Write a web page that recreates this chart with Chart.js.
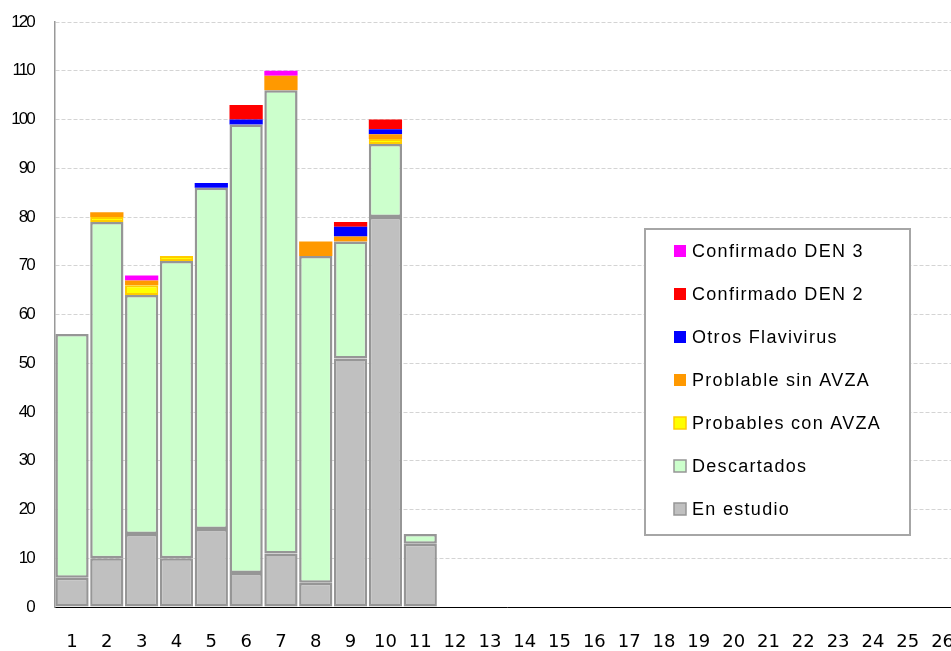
<!DOCTYPE html>
<html>
<head>
<meta charset="utf-8">
<script src="https://cdn.jsdelivr.net/npm/chart.js@4/dist/chart.umd.min.js"></script>
<style>
html,body{margin:0;padding:0;background:#fff;overflow:hidden;}
#wrap{width:960px;height:651px;}
</style>
</head>
<body>
<div id="wrap"><canvas id="c" width="960" height="651"></canvas></div>
<script>
const categories = ['1','2','3','4','5','6','7','8','9','10','11','12','13','14','15','16','17','18','19','20','21','22','23','24','25','26'];
const yTicks = [0,10,20,30,40,50,60,70,80,90,100,110,120];

const enEstudio   = [6,10,15,10,16,7,11,5,51,80,13];
const descartados = [50,69,49,61,70,92,95,67,24,15,2];
const conAVZA     = [0,1,2,1,0,0,0,0,0,1,0];
const sinAVZA     = [0,1,1,0,0,0,3,3,1,1,0];
const otrosFlavi  = [0,0,0,0,1,1,0,0,2,1,0];
const den2        = [0,0,0,0,0,3,0,0,1,2,0];
const den3        = [0,0,1,0,0,0,1,0,0,0,0];

const nz = a => a.map(v => v === 0 ? null : v);

const mk = (label, data, bg, border, bw) => ({
  label, data: nz(data), backgroundColor: bg, borderColor: border, borderWidth: bw,
  borderSkipped: false, categoryPercentage: 1, barPercentage: 0.955, stack: 's'
});

const datasets = [
  mk('En estudio', enEstudio, '#C0C0C0', '#969696', 2.5),
  mk('Descartados', descartados, '#CCFFCC', '#969696', 2.5),
  mk('Probables con AVZA', conAVZA, '#FFFF00', '#FFCC00', 2),
  mk('Problable sin AVZA', sinAVZA, '#FF9900', '#FF9900', 0),
  mk('Otros Flavivirus', otrosFlavi, '#0000FF', '#0000FF', 0),
  mk('Confirmado DEN 2', den2, '#FF0000', '#FF0000', 0),
  mk('Confirmado DEN 3', den3, '#FF00FF', '#FF00FF', 0)
];

const boxLegend = {
  id: 'boxLegend',
  beforeDraw(chart) {
    const ys = chart.scales.y;
    if (ys && !ys._lsWrapped) {
      const orig = ys.drawLabels.bind(ys);
      ys.drawLabels = function (area) {
        const ctx = chart.ctx;
        ctx.save();
        ctx.letterSpacing = '-2px';
        orig(area);
        ctx.restore();
      };
      ys._lsWrapped = true;
    }
  },
  afterDraw(chart) {
    const ctx = chart.ctx;
    ctx.save();
    ctx.fillStyle = '#ffffff';
    ctx.fillRect(645, 229, 265, 306);
    ctx.strokeStyle = '#a6a6a6';
    ctx.lineWidth = 2;
    ctx.strokeRect(645, 229, 265, 306);
    const ds = chart.data.datasets.slice().reverse();
    ctx.font = '18px "Liberation Sans", Arial, sans-serif';
    ctx.letterSpacing = '1.3px';
    ctx.textBaseline = 'middle';
    ctx.textAlign = 'left';
    ds.forEach((d, i) => {
      const y = 251 + i * 43;
      ctx.fillStyle = d.backgroundColor;
      ctx.fillRect(674, y - 6, 12, 12);
      if (d.borderWidth > 0) {
        ctx.strokeStyle = d.borderColor;
        ctx.lineWidth = 1.5;
        ctx.strokeRect(674, y - 6, 12, 12);
      }
      ctx.fillStyle = '#000';
      ctx.fillText(d.label, 692, y + 1);
    });
    ctx.restore();
  }
};

new Chart(document.getElementById('c'), {
  type: 'bar',
  data: { labels: categories, datasets },
  options: {
    responsive: false,
    animation: false,
    layout: { padding: { top: 22, right: 0, left: 0, bottom: 0 } },
    plugins: { legend: { display: false }, tooltip: { enabled: false } },
    scales: {
      x: {
        stacked: true,
        grid: { display: false, drawTicks: false },
        border: { display: true, color: '#000000', width: 1 },
        ticks: { color: '#000', font: { family: '"DejaVu Sans", Tahoma, sans-serif', size: 18 }, padding: 25, maxRotation: 0, autoSkip: false },
        afterFit(s) { s.height = 44; s.paddingLeft = 0; s.paddingRight = 0; }
      },
      y: {
        stacked: true,
        min: 0, max: 120,
        afterBuildTicks(s) { s.ticks = yTicks.map(v => ({ value: v })); },
        grid: { color: '#d4d4d4', lineWidth: 1, drawTicks: false },
        border: { display: true, color: '#999999', width: 1.5, dash: [4, 2] },
        ticks: { color: '#000', font: { family: '"Liberation Sans", Arial, sans-serif', size: 17 }, padding: 21 },
        afterFit(s) { s.width = 54.6; s.paddingTop = 0; s.paddingBottom = 0; }
      }
    }
  },
  plugins: [boxLegend]
});
</script>
</body>
</html>
